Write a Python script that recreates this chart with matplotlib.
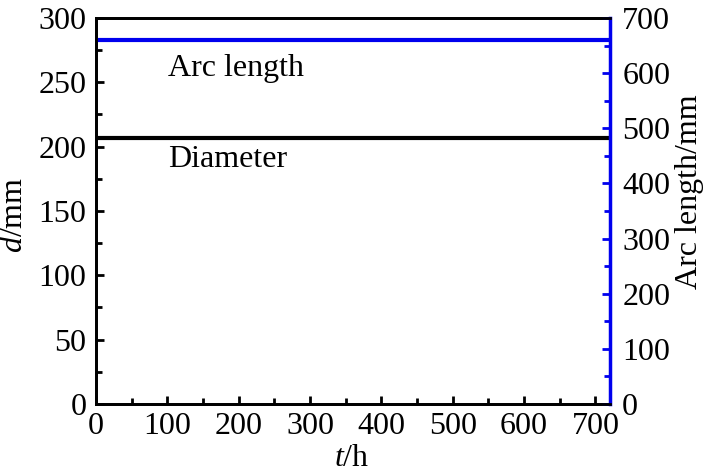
import matplotlib
matplotlib.use('Agg')

import matplotlib.pyplot as plt
from matplotlib.ticker import MultipleLocator

# data
t_hours = [0, 100, 200, 300, 400, 500, 600, 720]
diameter = [207, 207, 207, 207, 207, 207, 207, 207]
arc_length = [660, 660, 660, 660, 660, 660, 660, 660]

plt.rcParams['font.family'] = ['Liberation Serif', 'DejaVu Serif']
plt.rcParams['mathtext.fontset'] = 'custom'
plt.rcParams['mathtext.it'] = 'Liberation Serif:italic'
plt.rcParams['mathtext.rm'] = 'Liberation Serif'
fs = 23
blue = '#0000ee'

fig = plt.figure(figsize=(7.09, 4.72), dpi=100)
ax = fig.add_axes([0.1354, 0.1441, 0.7246, 0.8178])
ax2 = ax.twinx()

ax.plot(t_hours, diameter, color='black', lw=3)
ax2.plot(t_hours, arc_length, color=blue, lw=3)

ax.set_xlim(0, 720)
ax.set_ylim(0, 300)
ax2.set_ylim(0, 700)

ax.xaxis.set_major_locator(MultipleLocator(100))
ax.xaxis.set_minor_locator(MultipleLocator(50))
ax.yaxis.set_major_locator(MultipleLocator(50))
ax.yaxis.set_minor_locator(MultipleLocator(25))
ax2.yaxis.set_major_locator(MultipleLocator(100))
ax2.yaxis.set_minor_locator(MultipleLocator(50))

ax.tick_params(which='both', direction='in', width=2, labelsize=fs, top=False, right=False)
ax.tick_params(which='major', length=6)
ax.tick_params(which='minor', length=4)
ax.tick_params(axis='y', pad=7)
ax.tick_params(axis='x', pad=6)
ax2.tick_params(which='both', direction='in', width=2, colors=blue, labelcolor='black',
                labelsize=fs, pad=9)
ax2.tick_params(which='major', length=6)
ax2.tick_params(which='minor', length=4)

for s in ['left', 'bottom', 'top']:
    ax.spines[s].set_linewidth(2)
    ax2.spines[s].set_linewidth(2)
ax2.spines['right'].set_linewidth(2.5)
ax2.spines['right'].set_color(blue)
ax.spines['right'].set_visible(False)

ax.set_xlabel('$t$/h', fontsize=fs, va='center')
ax.xaxis.set_label_coords(0.498, -0.14)
ax.set_ylabel('$d$/mm', fontsize=fs, va='center')
ax.yaxis.set_label_coords(-0.158, 0.49)
ax2.set_ylabel('Arc length/mm', fontsize=fs, va='center')
ax2.yaxis.set_label_coords(1.156, 0.55)

ax.text(101, 261, 'Arc length', fontsize=fs, va='center', ha='left')
ax.text(101, 190, 'Diameter', fontsize=fs, va='center', ha='left')

plt.savefig('out.png', dpi=100)
plt.close(fig)
